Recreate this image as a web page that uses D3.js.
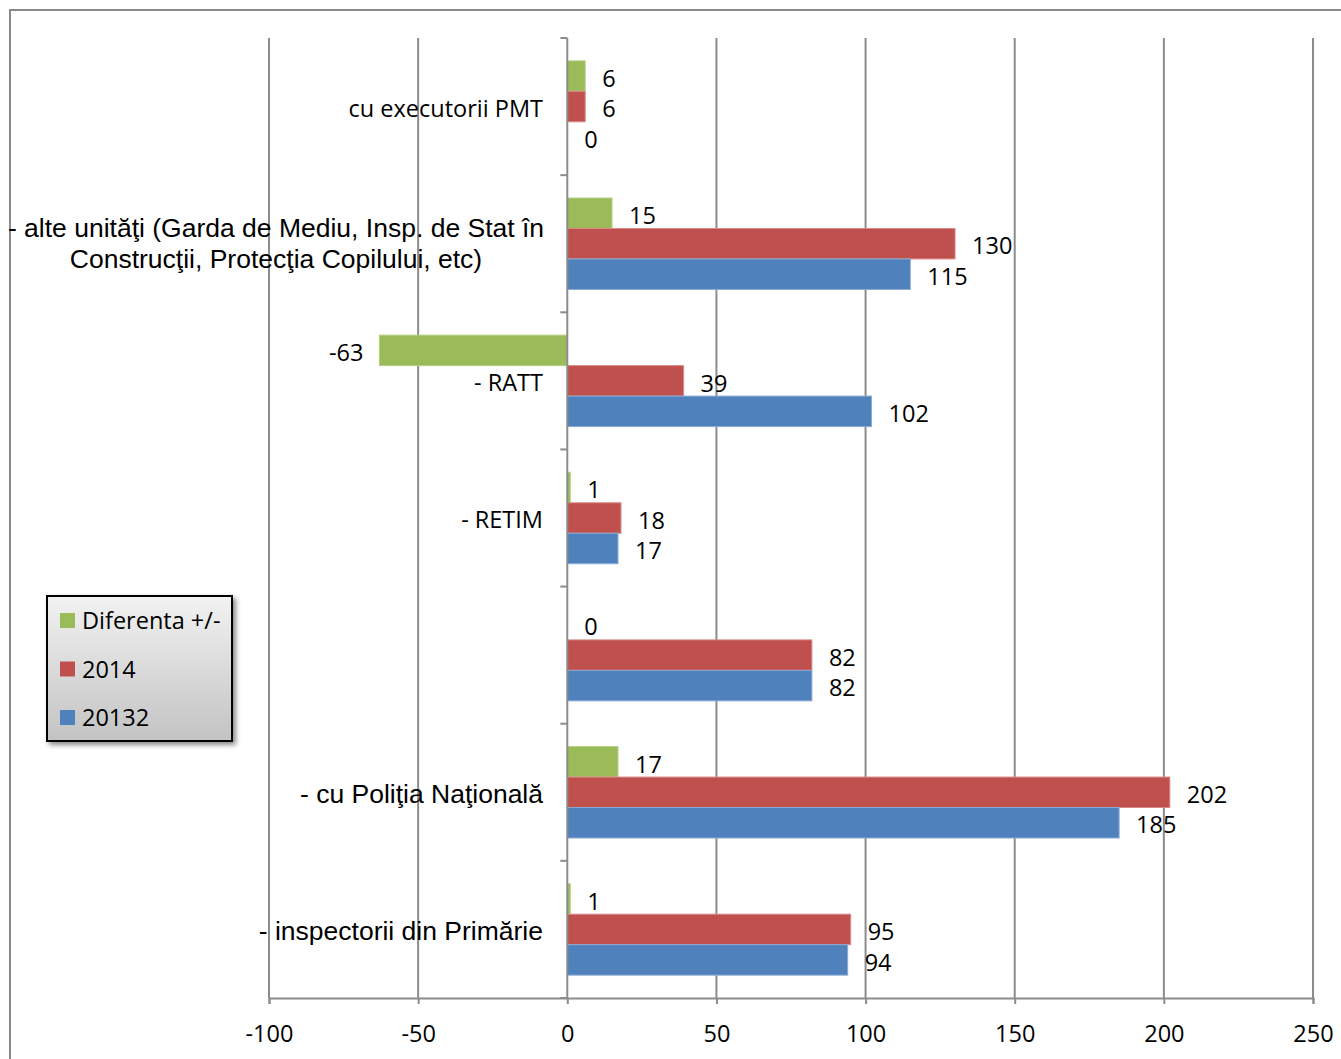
<!DOCTYPE html>
<html><head><meta charset="utf-8">
<script src="https://cdn.jsdelivr.net/npm/d3@7"></script>
<style>body{margin:0;background:#fff}svg{display:block}</style>
</head><body>
<svg id="c" width="1341" height="1059"></svg>
<script>
const categories = [
  "cu executorii PMT",
  "- alte unităţi (Garda de Mediu, Insp. de Stat în|Construcţii, Protecţia Copilului, etc)",
  "- RATT",
  "- RETIM",
  "",
  "- cu Poliţia Naţională",
  "- inspectorii din Primărie"
];
const catFont = ["calibri","arial","calibri","calibri","arial","arial","arial"];
const seriesNames = ["Diferenta +/-", "2014", "20132"];
const diferenta = [6, 15, -63, 1, 0, 17, 1];
const v2014 = [6, 130, 39, 18, 82, 202, 95];
const v2013 = [0, 115, 102, 17, 82, 185, 94];
const xTicks = [-100, -50, 0, 50, 100, 150, 200, 250];
const colors = ["#9BBB59", "#C0504D", "#4F81BD"];
const strokes = ["#b5cf85", "#d98a88", "#8aaad4"];

const FS = 23.5;
const seriesValues = [diferenta, v2014, v2013];
const svg = d3.select("#c");
const defs = svg.append("defs");
const lg = defs.append("linearGradient").attr("id","lg").attr("x1",0).attr("y1",0).attr("x2",0).attr("y2",1);
lg.append("stop").attr("offset","0%").attr("stop-color","#f2f2f2");
lg.append("stop").attr("offset","100%").attr("stop-color","#c3c3c3");
const flt = defs.append("filter").attr("id","sh").attr("x","-10%").attr("y","-10%").attr("width","130%").attr("height","130%");
flt.append("feDropShadow").attr("dx",3).attr("dy",3).attr("stdDeviation",2.5).attr("flood-color","#000").attr("flood-opacity",0.45);

// frame
svg.append("rect").attr("x",10).attr("y",10).attr("width",1340).attr("height",1060)
  .attr("fill","none").attr("stroke","#8a8a8a").attr("stroke-width",2);

const x = d3.scaleLinear().domain([-100,250]).range([269,1313]);
const y = d3.scaleBand().domain(d3.range(categories.length)).range([38,998]).padding(0);
const ys = d3.scaleBand().domain(d3.range(3)).range([y.bandwidth()/6, y.bandwidth()*5/6]).padding(0);

const grid = svg.append("g");
grid.selectAll("line").data(xTicks.filter(d=>d!==0)).join("line")
  .attr("x1",d=>x(d)).attr("x2",d=>x(d)).attr("y1",38).attr("y2",998)
  .attr("stroke","#8c8c8c").attr("stroke-width",2);

// x axis
const xAxis = d3.axisBottom(x).tickValues(xTicks).tickSize(6).tickPadding(21).tickFormat(d3.format("d"));
const gx = svg.append("g").attr("transform","translate(0,998)").call(xAxis);
gx.select(".domain").attr("stroke","#8c8c8c").attr("stroke-width",2);
gx.selectAll(".tick line").attr("stroke","#8c8c8c").attr("stroke-width",2);
gx.selectAll(".tick text").attr("font-family","'Open Sans'").attr("font-size",FS).attr("fill","#000")
  .text(d=>String(d));

// bars
const bars = svg.append("g");
seriesValues.forEach((vals,s)=>{
  bars.selectAll(null).data(vals).join("rect")
    .attr("x",d=>x(Math.min(0,d)))
    .attr("width",d=>Math.abs(x(d)-x(0)))
    .attr("y",(d,i)=>y(i)+ys(s))
    .attr("height",ys.bandwidth())
    .attr("fill",colors[s])
    .attr("stroke",d=>d===0?"none":strokes[s]).attr("stroke-width",1);
  bars.selectAll(null).data(vals).join("text")
    .attr("x",d=>d<0 ? x(d)-16 : x(d)+17)
    .attr("y",(d,i)=>y(i)+ys(s)+ys.bandwidth()/2+2.5)
    .attr("dy","0.35em")
    .attr("text-anchor",d=>d<0?"end":"start")
    .attr("font-family","'Open Sans'").attr("font-size",FS).attr("fill","#000")
    .text(d=>d);
});

// category axis
const gy = svg.append("g");
gy.append("line").attr("x1",x(0)).attr("x2",x(0)).attr("y1",38).attr("y2",998)
  .attr("stroke","#8c8c8c").attr("stroke-width",2);
gy.selectAll("line.t").data(d3.range(categories.length+1)).join("line").attr("class","t")
  .attr("x1",x(0)-7).attr("x2",x(0))
  .attr("y1",i=>38+i*y.step()).attr("y2",i=>38+i*y.step())
  .attr("stroke","#8c8c8c").attr("stroke-width",2);

categories.forEach((c,i)=>{
  const lines = c.split("|");
  const cy = y(i)+y.bandwidth()/2;
  const isArial = catFont[i]==="arial";
  const t = gy.append("text")
    .attr("font-family", isArial ? "'Liberation Sans', Arial" : "'Open Sans'")
    .attr("font-size", isArial ? 26.5 : FS).attr("fill","#000");
  if(lines.length===1){
    t.attr("x",543).attr("y",cy+(isArial?1:2)).attr("dy","0.35em").attr("text-anchor","end").text(c);
  } else {
    t.attr("text-anchor","middle");
    lines.forEach((l,k)=>{
      t.append("tspan").attr("x",276).attr("y",cy+(k-(lines.length-1)/2)*31).attr("dy","0.35em").text(l);
    });
  }
});

// legend
const leg = svg.append("g").attr("transform","translate(47,596)");
leg.append("rect").attr("width",185).attr("height",145).attr("fill","url(#lg)")
  .attr("stroke","#000").attr("stroke-width",2).attr("filter","url(#sh)");
seriesNames.forEach((n,k)=>{
  const g = leg.append("g").attr("transform",`translate(13,${24+k*48.5})`);
  g.append("rect").attr("x",0).attr("y",-7).attr("width",15).attr("height",15).attr("fill",colors[k]);
  g.append("text").attr("x",22).attr("y",1).attr("dy","0.35em")
    .attr("font-family","'Open Sans'").attr("font-size",FS).attr("fill","#000").text(n);
});
</script>
</body></html>
